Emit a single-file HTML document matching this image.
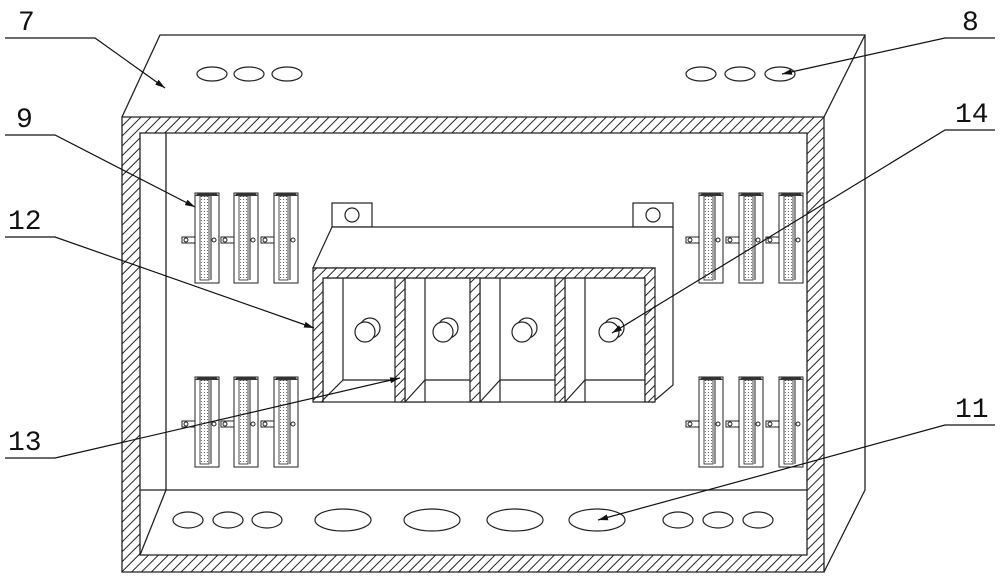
<!DOCTYPE html>
<html><head><meta charset="utf-8"><style>
html,body{margin:0;padding:0;background:#fff}
svg{display:block}
text{font-family:"Liberation Mono","DejaVu Sans Mono",monospace;font-size:28px;fill:#111}
</style></head><body>
<svg width="1000" height="578" viewBox="0 0 1000 578" xmlns="http://www.w3.org/2000/svg">
<defs>
<pattern id="h" patternUnits="userSpaceOnUse" width="7" height="7" patternTransform="rotate(45)">
<rect width="7" height="7" fill="#fff"/><line x1="0" y1="0" x2="0" y2="7" stroke="#222" stroke-width="2"/>
</pattern>
<pattern id="d" patternUnits="userSpaceOnUse" width="3" height="3">
<rect width="3" height="3" fill="#fff"/><rect width="1" height="1" fill="#666"/>
</pattern>
<marker id="a" markerWidth="10" markerHeight="6" refX="10" refY="3" orient="auto" markerUnits="userSpaceOnUse"><path d="M0,0 L10,3 L0,6z" fill="#111"/></marker>
<g id="clip">
<rect x="-13" y="44" width="14" height="6" fill="#fff" stroke="#222" stroke-width="1"/>
<circle cx="-9" cy="47" r="2" fill="none" stroke="#222"/>
<rect x="0" y="0" width="24" height="90" fill="#fff" stroke="#222"/>
<rect x="5" y="3" width="9" height="84" fill="url(#d)" stroke="#222" stroke-width="0.8"/>
<line x1="16" y1="3" x2="16" y2="87" stroke="#222"/>
<path d="M0,3 L3,0 L21,0 L24,3 Z" fill="#333"/>
<circle cx="19" cy="47" r="2" fill="none" stroke="#222"/>
</g>
</defs>
<g fill="none" stroke="#222" stroke-width="1.3">
<path d="M122,117 L160,35 L865,35 L865,490 L824,572" fill="#fff"/>
<line x1="824" y1="117" x2="865" y2="35"/>
<path d="M122,117 H824 V572 H122 Z M140,133 V555 H807 V133 Z" fill="url(#h)" fill-rule="evenodd"/>
<line x1="166" y1="133" x2="166" y2="490"/>
<line x1="140" y1="490" x2="807" y2="490"/>
<line x1="166" y1="490" x2="140" y2="555"/>
</g>
<g fill="#fff" stroke="#222" stroke-width="1.2">
<ellipse cx="212" cy="74" rx="15" ry="7"/><ellipse cx="249" cy="74" rx="15" ry="7"/><ellipse cx="287" cy="74" rx="15" ry="7"/>
<ellipse cx="701" cy="74" rx="15" ry="7"/><ellipse cx="740" cy="74" rx="15" ry="7"/><ellipse cx="780" cy="74" rx="15" ry="7"/>
<ellipse cx="188" cy="520" rx="15" ry="8"/><ellipse cx="228" cy="520" rx="15" ry="8"/><ellipse cx="267" cy="520" rx="15" ry="8"/>
<ellipse cx="343" cy="520" rx="28" ry="11"/><ellipse cx="432" cy="520" rx="28" ry="11"/><ellipse cx="515" cy="520" rx="28" ry="11"/><ellipse cx="597" cy="520" rx="28" ry="11"/>
<ellipse cx="678" cy="520" rx="15" ry="8"/><ellipse cx="718" cy="520" rx="15" ry="8"/><ellipse cx="758" cy="520" rx="15" ry="8"/>
</g>
<use href="#clip" x="195" y="193"/><use href="#clip" x="234" y="193"/><use href="#clip" x="274" y="193"/>
<use href="#clip" x="195" y="377"/><use href="#clip" x="234" y="377"/><use href="#clip" x="274" y="377"/>
<use href="#clip" x="699" y="193"/><use href="#clip" x="739" y="193"/><use href="#clip" x="779" y="193"/>
<use href="#clip" x="699" y="377"/><use href="#clip" x="739" y="377"/><use href="#clip" x="779" y="377"/>
<g stroke="#222" stroke-width="1.2" fill="#fff">
<rect x="332" y="203" width="40" height="24"/><circle cx="352" cy="215" r="7"/>
<rect x="633" y="203" width="40" height="24"/><circle cx="653" cy="215" r="7"/>
<path d="M313,268 L332,227 L673,227 L673,385 L653,402 L655,268 Z"/>
<rect x="323" y="278" width="322" height="124"/>
<line x1="343" y1="278" x2="343" y2="380"/><line x1="343" y1="380" x2="645" y2="380"/>
<line x1="343" y1="380" x2="323" y2="400"/>
<rect x="405" y="278" width="20" height="124"/><line x1="425" y1="380" x2="405" y2="402"/>
<rect x="480" y="278" width="20" height="124"/><line x1="500" y1="380" x2="480" y2="402"/>
<rect x="565" y="278" width="20" height="124"/><line x1="585" y1="380" x2="565" y2="402"/>
<path d="M313,268 H655 V402 H645 V278 H323 V402 H313 Z" fill="url(#h)"/>
<rect x="395" y="278" width="10" height="124" fill="url(#h)"/>
<rect x="470" y="278" width="10" height="124" fill="url(#h)"/>
<rect x="555" y="278" width="10" height="124" fill="url(#h)"/>
<circle cx="370" cy="328" r="10"/><circle cx="365" cy="332" r="10"/>
<circle cx="448" cy="328" r="10"/><circle cx="443" cy="332" r="10"/>
<circle cx="527" cy="328" r="10"/><circle cx="522" cy="332" r="10"/>
<circle cx="614" cy="328" r="10"/><circle cx="609" cy="332" r="10"/>
</g>
<g stroke="#111" stroke-width="1.2" fill="none">
<path d="M5,38 H95 L165,88" marker-end="url(#a)"/>
<path d="M995,38 H945 L782,74" marker-end="url(#a)"/>
<path d="M5,135 H55 L195,207" marker-end="url(#a)"/>
<path d="M5,237 H55 L314,328" marker-end="url(#a)"/>
<path d="M995,130 H945 L612,333" marker-end="url(#a)"/>
<path d="M5,458 H55 L400,378" marker-end="url(#a)"/>
<path d="M995,425 H945 L598,520" marker-end="url(#a)"/>
</g>
<text x="18" y="30">7</text>
<text x="962" y="30">8</text>
<text x="16" y="127">9</text>
<text x="8" y="229">12</text>
<text x="955" y="122">14</text>
<text x="8" y="450">13</text>
<text x="955" y="417">11</text>
</svg>
</body></html>
